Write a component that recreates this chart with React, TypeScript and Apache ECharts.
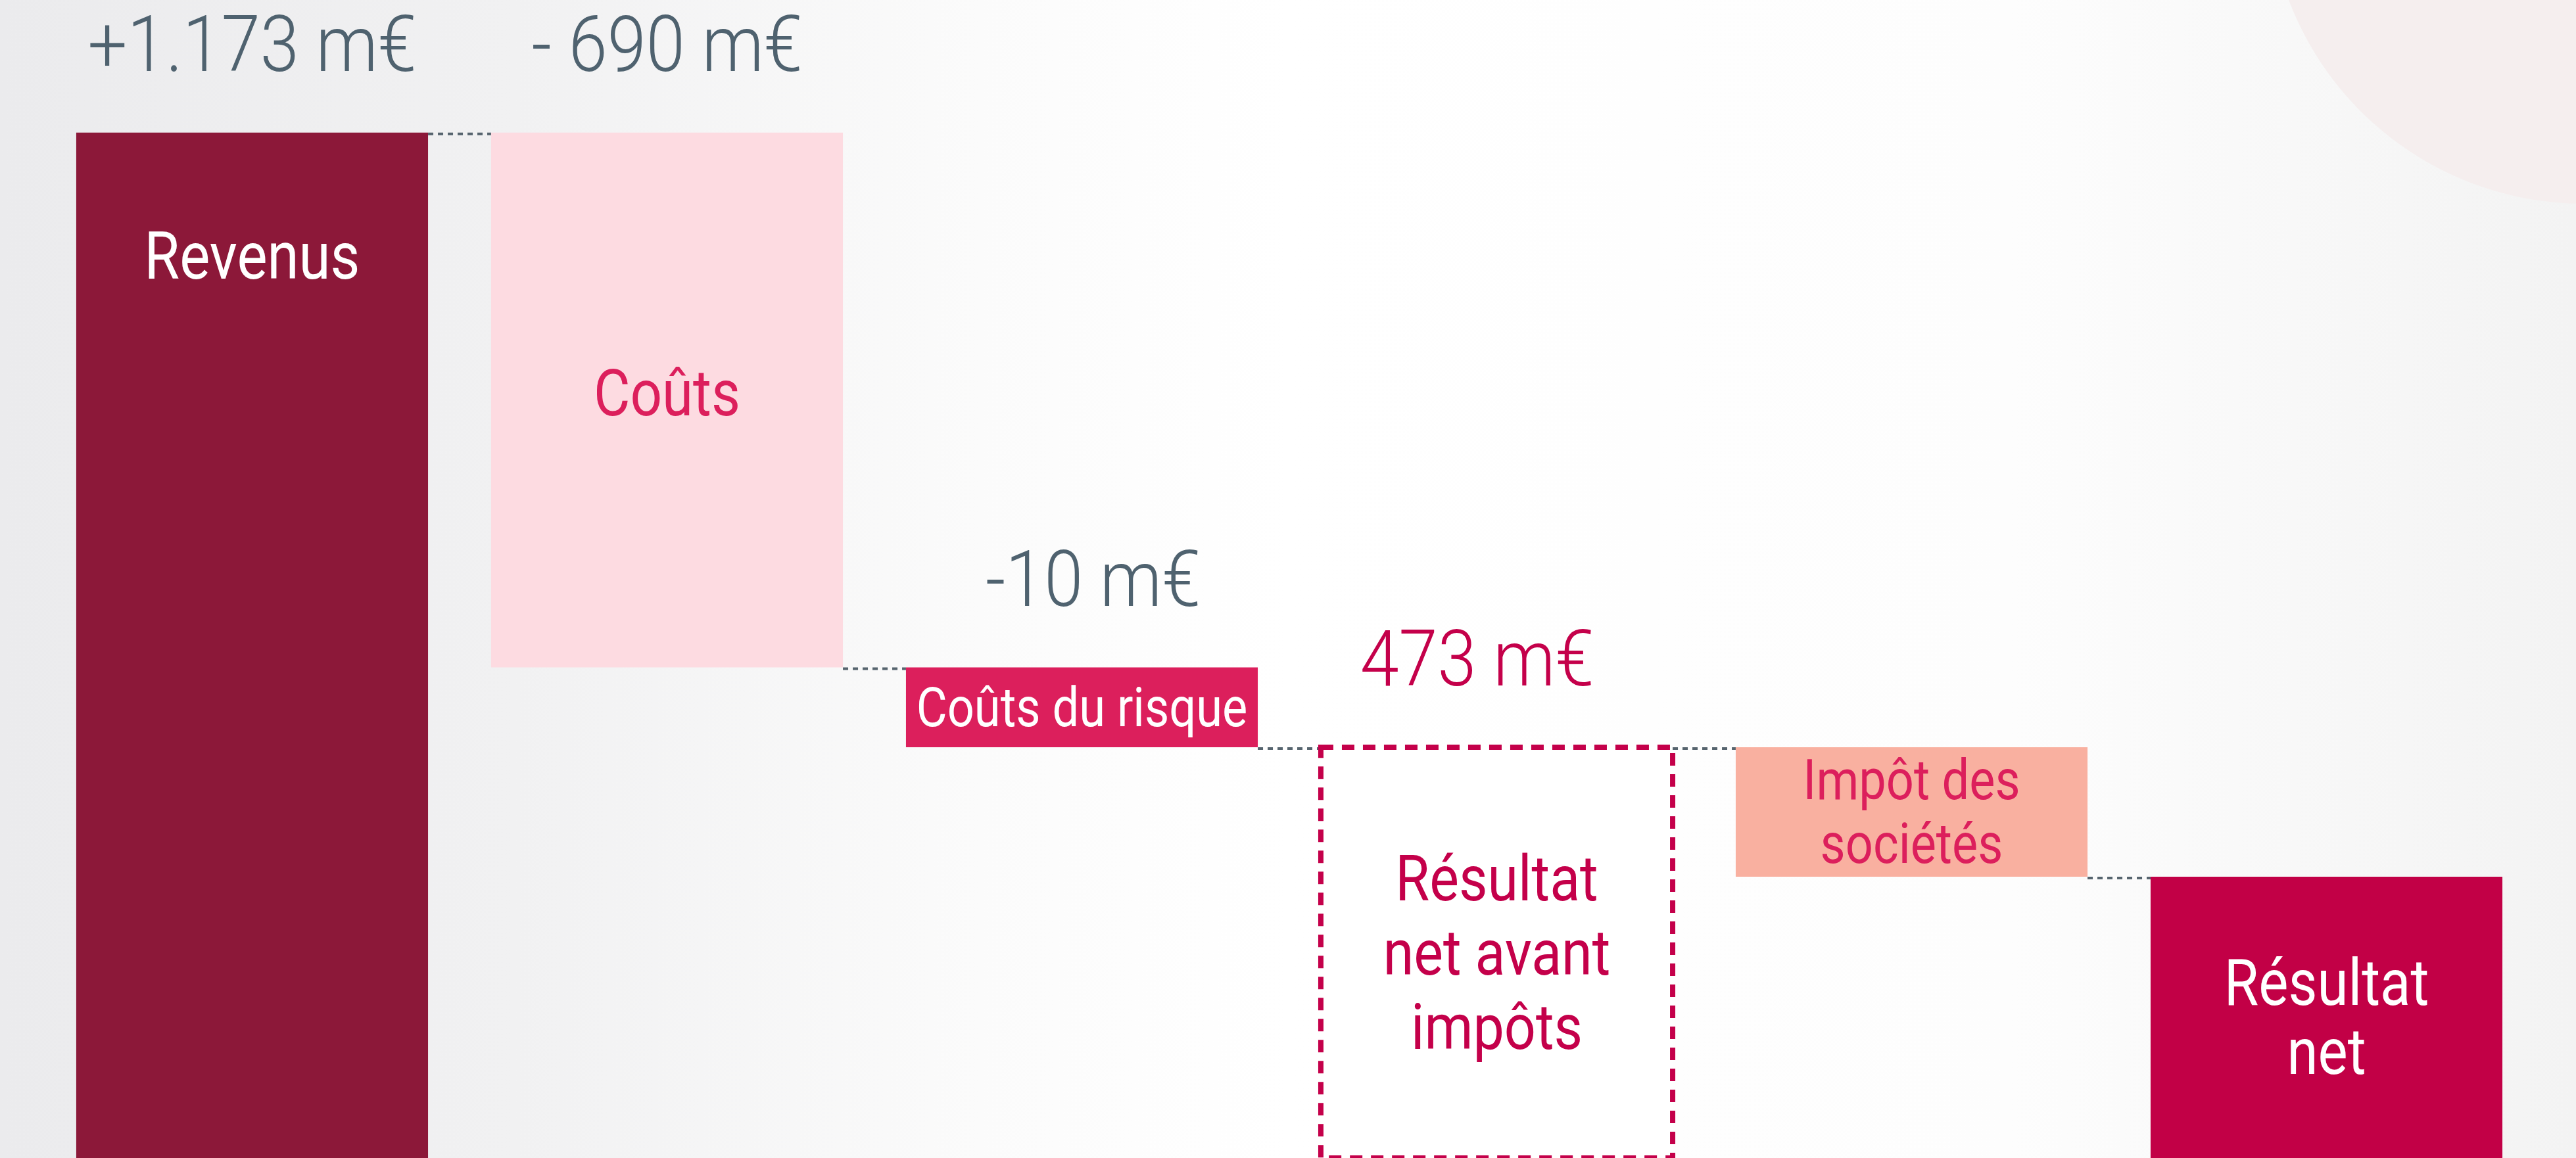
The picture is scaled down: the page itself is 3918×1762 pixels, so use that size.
import React, { useEffect, useRef } from 'react';
import * as echarts from 'echarts';

// Categories of the waterfall
const categories = ['Revenus', 'Coûts', 'Coûts du risque', 'Résultat net avant impôts', 'Impôt des sociétés', 'Résultat net'];
// Text written inside each block
const blockTexts = ['Revenus', 'Coûts', 'Coûts du risque', 'Résultat\nnet avant\nimpôts', 'Impôt des\nsociétés', 'Résultat\nnet'];
// Amount labels above the blocks
const amountLabels = ['+1.173 m€', '- 690 m€', '-10 m€', '473 m€', '', ''];
// Visual levels of each block as drawn in the infographic (not to scale)
const levelTop = [1173, 1173, 483, 380, 380, 213];
const levelBottom = [-150, 483, 380, -150, 213, -150];

const FONT = 'Roboto';
const fills = ['#8c1839', '#fddbe1', '#dc1f5c', '#ffffff', '#f9b0a0', '#c20046'];
const textColors = ['#ffffff', '#dc1f5c', '#ffffff', '#c4004a', '#dc1f5c', '#ffffff'];
const amountColors = ['#4f626f', '#4f626f', '#4f626f', '#c4004a', '#4f626f', '#4f626f'];
const amountShiftX = [0, 0, 17, -30, 0, 0];
const textSizes = [100, 98, 83, 97, 85, 98];
const lineHeights = [110, 110, 100, 113, 97, 105];
const textShiftY = [0, -10, 0, 0, 0, 0];

export default function App() {
  const ref = useRef<HTMLDivElement>(null);
  useEffect(() => {
    if (!ref.current) return;
    const chart = echarts.init(ref.current, undefined, { renderer: 'svg' });
    const n = categories.length;
    const data = categories.map((_, i) => [i, levelTop[i], levelBottom[i]]);
    chart.setOption({
      animation: false,
      backgroundColor: new echarts.graphic.LinearGradient(0, 0, 1, 0, [
        { offset: 0, color: '#ebebed' },
        { offset: 0.2, color: '#f1f1f2' },
        { offset: 0.38, color: '#fbfbfb' },
        { offset: 0.5, color: '#ffffff' },
        { offset: 0.78, color: '#fdfdfd' },
        { offset: 1, color: '#f3f3f3' },
      ]),
      graphic: [
        {
          type: 'circle',
          shape: { cx: 3930, cy: -170, r: 480 },
          style: { fill: '#f5eeee' },
          z: -10,
          silent: true,
        },
      ],
      grid: { left: 68, right: 64, top: 52, bottom: 0 },
      xAxis: { type: 'category', data: categories, show: false },
      yAxis: { type: 'value', min: -150, max: 1300, show: false },
      series: [
        {
          type: 'custom',
          clip: false,
          data,
          renderItem: (params: any, api: any) => {
            const i = api.value(0);
            const top = api.value(1);
            const bottom = api.value(2);
            const pTop = api.coord([i, top]);
            const pBot = api.coord([i, bottom]);
            const w = api.size([1, 0])[0] * 0.848;
            const x = pTop[0] - w / 2;
            const children: any[] = [];
            const dashed = i === 3;
            children.push({
              type: 'rect',
              shape: { x, y: pTop[1], width: w, height: pBot[1] - pTop[1] },
              style: dashed
                ? { fill: fills[i], stroke: '#c4004a', lineWidth: 8, lineDash: [19, 13] }
                : { fill: fills[i] },
            });
            const labelY = (i === 0 ? pTop[1] + 188 : (pTop[1] + pBot[1]) / 2) + textShiftY[i];
            children.push({
              type: 'text',
              x: pTop[0],
              y: labelY,
              scaleX: 0.87,
              style: {
                text: blockTexts[i],
                fill: textColors[i],
                fontSize: textSizes[i],
                fontFamily: FONT,
                fontWeight: 400,
                lineHeight: lineHeights[i],
                align: 'center',
                verticalAlign: 'middle',
              },
            });
            if (amountLabels[i]) {
              children.push({
                type: 'text',
                x: pTop[0] + amountShiftX[i],
                y: pTop[1] - 134,
                scaleX: 0.9,
                style: {
                  text: amountLabels[i],
                  fill: amountColors[i],
                  fontSize: 118,
                  fontFamily: FONT,
                  fontWeight: 300,
                  align: 'center',
                  verticalAlign: 'middle',
                },
              });
            }
            if (i < n - 1) {
              const next = api.coord([i + 1, levelTop[i + 1]]);
              children.push({
                type: 'line',
                shape: { x1: x + w, y1: next[1] + 2, x2: next[0] - w / 2, y2: next[1] + 2 },
                style: { stroke: '#56646e', lineWidth: 4, lineDash: [8, 7] },
              });
            }
            return { type: 'group', children };
          },
        },
      ],
    });
    return () => chart.dispose();
  }, []);
  return <div ref={ref} style={{ position: 'fixed', left: 0, top: 0, width: 3918, height: 1762 }} />;
}
